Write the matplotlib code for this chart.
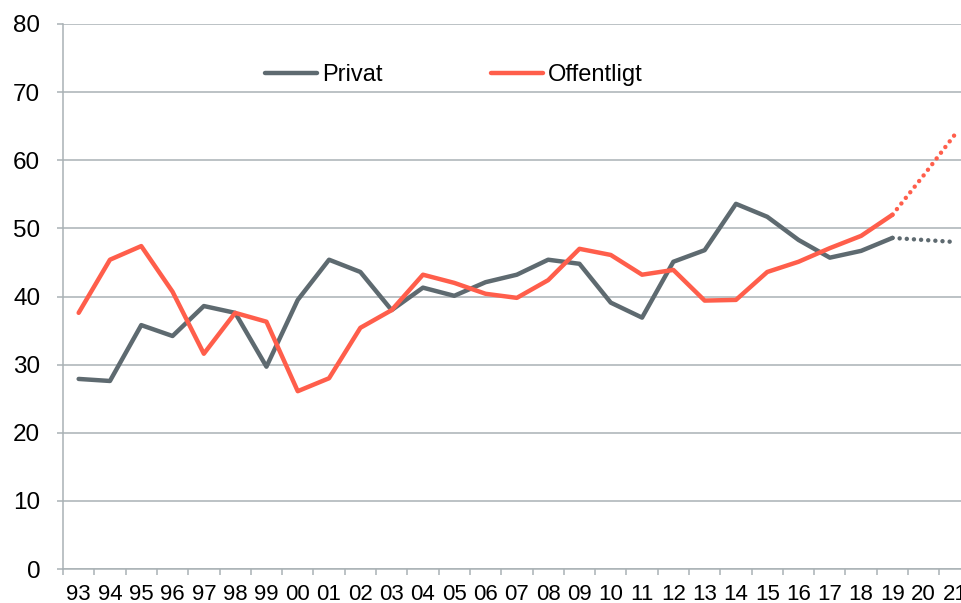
import matplotlib.pyplot as plt
from matplotlib.ticker import MultipleLocator

plt.rcParams["font.family"] = ["Liberation Sans", "DejaVu Sans"]

# data
years = ["93", "94", "95", "96", "97", "98", "99", "00", "01", "02", "03", "04",
         "05", "06", "07", "08", "09", "10", "11", "12", "13", "14", "15", "16",
         "17", "18", "19", "20", "21"]
privat = [27.9, 27.6, 35.8, 34.2, 38.6, 37.6, 29.7, 39.5, 45.4, 43.6, 38.0, 41.3,
          40.1, 42.1, 43.2, 45.4, 44.8, 39.1, 36.9, 45.1, 46.8, 53.6, 51.7, 48.3,
          45.7, 46.7, 48.6, 48.3, 48.0]
offentligt = [37.6, 45.4, 47.4, 40.7, 31.6, 37.6, 36.3, 26.1, 28.0, 35.4, 38.0, 43.2,
              42.0, 40.4, 39.8, 42.4, 47.0, 46.1, 43.2, 43.9, 39.4, 39.5, 43.6, 45.1,
              47.1, 48.9, 52.0, 57.8, 63.8]
n_actual = 27  # 93..19 er faktiske tal, 20-21 prognose

c_priv = "#5E6A70"
c_off = "#FF5E4B"
c_grid = "#A9B1B5"
lw = 3.2

fig = plt.figure(figsize=(9.62, 6.03), dpi=100)
ax = fig.add_axes([63 / 962, 34 / 603, 907.7 / 962, 545 / 603])

x = list(range(len(years)))
ax.plot(x[:n_actual], privat[:n_actual], color=c_priv, lw=lw, solid_joinstyle="round",
        solid_capstyle="round", label="Privat", zorder=3)
ax.plot(x[:n_actual], offentligt[:n_actual], color=c_off, lw=lw, solid_joinstyle="round",
        solid_capstyle="round", label="Offentligt", zorder=3)
ax.plot(x[n_actual - 1:], privat[n_actual - 1:], color=c_priv, lw=lw,
        linestyle=(1.6, (0.01, 1.6)), dash_capstyle="round", zorder=3)
ax.plot(x[n_actual - 1:], offentligt[n_actual - 1:], color=c_off, lw=lw,
        linestyle=(1.6, (0.01, 1.6)), dash_capstyle="round", zorder=3)

ax.set_xlim(-0.5, len(years) - 0.5)
ax.set_ylim(0, 80)
ax.yaxis.set_major_locator(MultipleLocator(10))
ax.grid(axis="y", color=c_grid, lw=1.1)
ax.set_axisbelow(True)

ax.set_xticks(x)
ax.set_xticklabels(years, fontsize=16)
ax.set_xticks([i - 0.5 for i in range(len(years) + 1)], minor=True)
ax.tick_params(axis="x", which="major", length=0, pad=10.5)
ax.tick_params(axis="x", which="minor", length=4.3, width=1.1, color=c_grid)
ax.tick_params(axis="y", length=4.3, width=1.1, color=c_grid, labelsize=17.5, pad=12)

for s in ["top", "right"]:
    ax.spines[s].set_visible(False)
for s in ["left", "bottom"]:
    ax.spines[s].set_color(c_grid)
    ax.spines[s].set_linewidth(1.1)

ax.legend(loc="center left", bbox_to_anchor=((265 - 63) / 907.7, (569 - 75) / 545),
          ncol=2, frameon=False, fontsize=17, handlelength=2.2, handletextpad=0.2,
          columnspacing=4.6, borderpad=0, borderaxespad=0)

plt.savefig("out.png", dpi=100)
